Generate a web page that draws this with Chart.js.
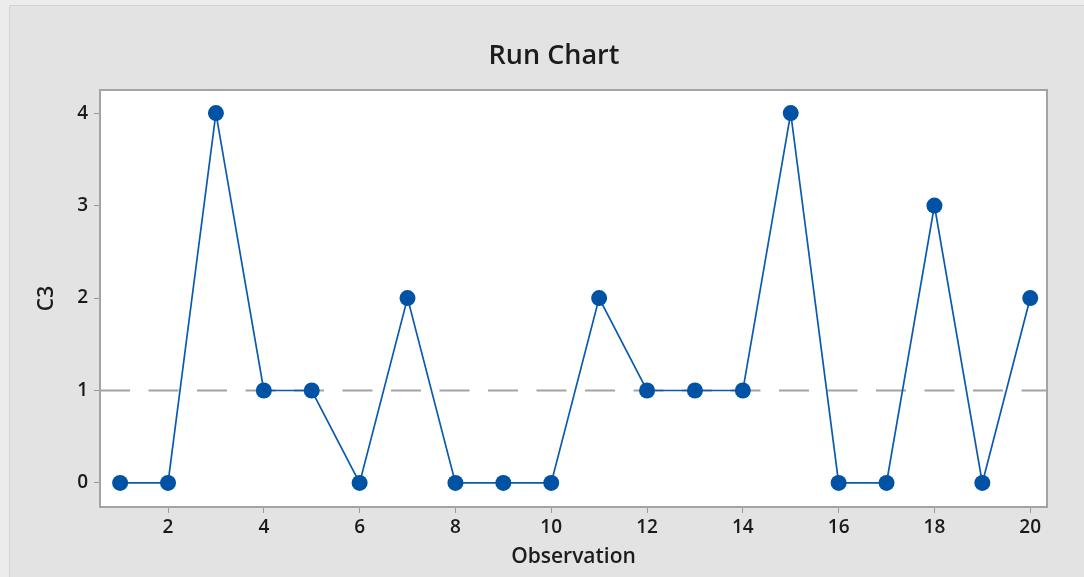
<!DOCTYPE html>
<html>
<head>
<meta charset="utf-8">
<script src="https://cdn.jsdelivr.net/npm/chart.js@4/dist/chart.umd.min.js"></script>
<style>
  html, body { margin: 0; padding: 0; background: #ececec; }
  #wrap { width: 1084px; height: 577px; }
</style>
</head>
<body>
<div id="wrap"><canvas id="c" width="1084" height="577"></canvas></div>
<script>
// ---- data ----
const observations = [1,2,3,4,5,6,7,8,9,10,11,12,13,14,15,16,17,18,19,20];
const c3Values = [0,0,4,1,1,0,2,0,0,0,2,1,1,1,4,0,0,3,0,2];
const medianValue = 1;
const xTicks = [2,4,6,8,10,12,14,16,18,20];
const yTicks = [0,1,2,3,4];
const titleText = 'Run Chart';
const xTitle = 'Observation';
const yTitle = 'C3';

// axis limits
const xMin = 0.58, xMax = 20.35;
const yMin = -0.26, yMax = 4.25;

const FONT = "'Open Sans', 'Noto Sans', sans-serif";

const points = observations.map((o, i) => ({ x: o, y: c3Values[i] }));
const medianLine = [{ x: xMin, y: medianValue }, { x: xMax, y: medianValue }];

const framePlugin = {
  id: 'frame',
  beforeDraw(chart) {
    const ctx = chart.ctx;
    const { width, height } = chart;
    ctx.save();
    ctx.fillStyle = '#ececec';
    ctx.fillRect(0, 0, width, height);
    ctx.fillStyle = '#e3e3e3';
    ctx.fillRect(10, 5, width - 10, height - 5);
    ctx.strokeStyle = '#d2d2d2';
    ctx.lineWidth = 1;
    ctx.beginPath();
    ctx.moveTo(9.5, height); ctx.lineTo(9.5, 5.5); ctx.lineTo(width, 5.5);
    ctx.stroke();
    const a = chart.chartArea;
    ctx.fillStyle = '#ffffff';
    ctx.fillRect(a.left, a.top, a.right - a.left, a.bottom - a.top);
    ctx.restore();
  },
  afterDatasetsDraw(chart) {
    const ctx = chart.ctx;
    const a = chart.chartArea;
    ctx.save();
    ctx.strokeStyle = '#a3a3a3';
    ctx.lineWidth = 2;
    ctx.strokeRect(a.left, a.top, a.right - a.left, a.bottom - a.top);
    ctx.fillStyle = '#1c1c1c';
    ctx.textAlign = 'center';
    ctx.textBaseline = 'alphabetic';
    ctx.font = "600 27px " + FONT;
    ctx.fillText(titleText, 554, 64);
    ctx.font = "600 21px " + FONT;
    ctx.fillText(xTitle, (a.left + a.right) / 2, 563);
    ctx.translate(47, (a.top + a.bottom) / 2);
    ctx.rotate(-Math.PI / 2);
    ctx.textBaseline = 'middle';
    ctx.fillText(yTitle, 0, 0);
    ctx.restore();
  }
};

new Chart(document.getElementById('c'), {
  type: 'scatter',
  data: {
    datasets: [
      {
        label: 'Median',
        data: medianLine,
        showLine: true,
        borderColor: '#a3a3a3',
        borderWidth: 2,
        borderDash: [30, 18.5],
        pointRadius: 0,
        order: 2
      },
      {
        label: 'C3',
        data: points,
        showLine: true,
        borderColor: '#0a5bb0',
        borderWidth: 1.7,
        backgroundColor: '#0052a4',
        pointBackgroundColor: '#0052a4',
        pointBorderColor: '#0052a4',
        pointRadius: 8,
        pointBorderWidth: 0,
        order: 1
      }
    ]
  },
  options: {
    responsive: false,
    animation: false,
    devicePixelRatio: 1,
    layout: { padding: { top: 90, right: 37, bottom: 0, left: 10 } },
    plugins: { legend: { display: false }, title: { display: false }, tooltip: { enabled: false } },
    scales: {
      x: {
        type: 'linear',
        min: xMin, max: xMax,
        afterBuildTicks(scale) { scale.ticks = xTicks.map(v => ({ value: v })); },
        afterFit(scale) { scale.height = 70; },
        border: { display: false },
        grid: { display: true, drawOnChartArea: false, drawTicks: true, tickLength: 6, color: '#9a9a9a', tickWidth: 1 },
        ticks: { color: '#1a1a1a', font: { family: FONT, size: 19, weight: '600' }, padding: 3, maxRotation: 0, autoSkip: false }
      },
      y: {
        type: 'linear',
        min: yMin, max: yMax,
        afterBuildTicks(scale) { scale.ticks = yTicks.map(v => ({ value: v })); },
        afterFit(scale) { scale.width = 90; },
        border: { display: false },
        grid: { display: true, drawOnChartArea: false, drawTicks: true, tickLength: 6, color: '#9a9a9a', tickWidth: 1 },
        ticks: { color: '#1a1a1a', font: { family: FONT, size: 19, weight: '600' }, padding: 6, autoSkip: false }
      }
    }
  },
  plugins: [framePlugin]
});
</script>
</body>
</html>
